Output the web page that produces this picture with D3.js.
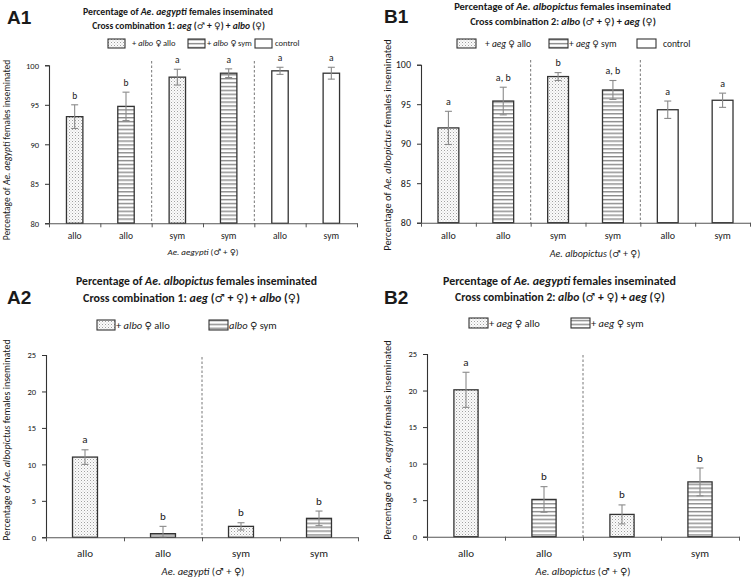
<!DOCTYPE html>
<html><head><meta charset="utf-8">
<script src="https://cdn.jsdelivr.net/npm/d3@7"></script>
<style>
body{margin:0;background:#fff}
svg{display:block}
text{font-family:Carlito, Lato, "Open Sans", sans-serif; fill:#1a1a1a}
</style>
</head><body>
<svg id="chart" width="756" height="579"></svg>
<script>
// ---------------- DATA ----------------
// Panel A1
const a1Categories = ["allo", "allo", "sym", "sym", "allo", "sym"];
const a1Values     = [93.5, 94.8, 98.5, 99.0, 99.3, 99.0];
const a1Errors     = [1.5, 1.8, 1.0, 0.55, 0.45, 0.75];
const a1Letters    = ["b", "b", "a", "a", "a", "a"];
const a1Groups     = ["allo", "sym", "allo", "sym", "control", "control"];
const a1Ticks      = [80, 85, 90, 95, 100];

// Panel B1
const b1Categories = ["allo", "allo", "sym", "sym", "allo", "sym"];
const b1Values     = [92.0, 95.4, 98.5, 96.8, 94.3, 95.5];
const b1Errors     = [2.1, 1.75, 0.5, 1.2, 1.1, 0.9];
const b1Letters    = ["a", "a, b", "b", "a, b", "a", "a"];
const b1Groups     = ["allo", "sym", "allo", "sym", "control", "control"];
const b1Ticks      = [80, 85, 90, 95, 100];

// Panel A2
const a2Categories = ["allo", "allo", "sym", "sym"];
const a2Values     = [11.0, 0.5, 1.5, 2.6];
const a2Errors     = [1.0, 1.0, 0.5, 1.0];
const a2Letters    = ["a", "b", "b", "b"];
const a2Groups     = ["allo", "sym", "allo", "sym"];
const a2Ticks      = [0, 5, 10, 15, 20, 25];

// Panel B2
const b2Categories = ["allo", "allo", "sym", "sym"];
const b2Values     = [20.1, 5.1, 3.05, 7.5];
const b2Errors     = [2.4, 1.75, 1.3, 1.9];
const b2Letters    = ["a", "b", "b", "b"];
const b2Groups     = ["allo", "sym", "allo", "sym"];
const b2Ticks      = [0, 5, 10, 15, 20, 25];

// ---------------- DRAWING ----------------
const svg = d3.select("#chart");
const defs = svg.append("defs");

// dotted pattern
const pd = defs.append("pattern").attr("id", "dots").attr("patternUnits", "userSpaceOnUse")
  .attr("width", 3).attr("height", 3);
pd.append("rect").attr("width", 3).attr("height", 3).attr("fill", "#fbfbfb");
pd.append("rect").attr("x", 0).attr("y", 0).attr("width", 1).attr("height", 1).attr("fill", "#a0a0a0");
pd.append("rect").attr("x", 1.5).attr("y", 1.5).attr("width", 1).attr("height", 1).attr("fill", "#c8c8c8");
// striped pattern
const ps = defs.append("pattern").attr("id", "stripes").attr("patternUnits", "userSpaceOnUse")
  .attr("width", 4).attr("height", 3.9);
ps.append("rect").attr("width", 4).attr("height", 3.9).attr("fill", "#fff");
ps.append("rect").attr("x", 0).attr("y", 0).attr("width", 4).attr("height", 1.4).attr("fill", "#8a8a8a");

const fillFor = g => g === "allo" ? "url(#dots)" : g === "sym" ? "url(#stripes)" : "#fff";

// rich text: segments with italic / bold; gender symbols in a font that has them
function rich(sel, segs) {
  segs.forEach(s => {
    const parts = s.t.split(/([\u2640\u2642])/).filter(p => p.length);
    parts.forEach(p => {
      const t = sel.append("tspan").text(p);
      if (s.i) t.attr("font-style", "italic");
      if (s.b) t.attr("font-weight", "bold");
      if (p === "\u2640" || p === "\u2642") {
        t.style("font-family", "'DejaVu Sans', sans-serif").attr("font-size", "0.95em").attr("font-style", "normal");
      }
    });
  });
  return sel;
}
function fitWidth(textSel, w) {
  const node = textSel.node();
  const cur = node.getComputedTextLength();
  const fs = parseFloat(textSel.attr("font-size"));
  if (cur > 0) textSel.attr("font-size", (fs * w / cur).toFixed(2));
}

function panel(cfg) {
  const g = svg.append("g");
  const n = cfg.cats.length;
  const x = d3.scaleBand().domain(d3.range(n)).range([cfg.left, cfg.right]).padding(0);
  const xb = d3.scaleLinear().domain([0, n]).range([cfg.left, cfg.right]);
  const y = d3.scaleLinear().domain(cfg.domain).range([cfg.bottom, cfg.top]);
  const bw = x.bandwidth() * cfg.barFrac;

  // panel label
  g.append("text").attr("x", cfg.label[0]).attr("y", cfg.label[1])
    .attr("font-weight", "bold").attr("font-size", 19)
    .style("font-family", "'Liberation Sans', Arial, sans-serif").text(cfg.labelText);

  // titles
  cfg.titles.forEach(tt => {
    const t = g.append("text").attr("x", tt.x).attr("y", tt.y).attr("text-anchor", "middle")
      .attr("font-weight", "bold").attr("font-size", 10);
    rich(t, tt.segs);
    fitWidth(t, tt.w);
  });

  // legend
  cfg.legend.forEach(l => {
    g.append("rect").attr("x", l.bx).attr("y", cfg.legendY - l.bh / 2).attr("width", l.bw).attr("height", l.bh)
      .attr("fill", fillFor(l.group)).attr("stroke", "#333").attr("stroke-width", 1.1);
    const t = g.append("text").attr("x", l.tx).attr("y", cfg.legendY + cfg.legendFs * 0.35)
      .attr("font-size", cfg.legendFs);
    rich(t, l.segs);
  });

  // separators
  cfg.seps.forEach(s => {
    g.append("line").attr("x1", xb(s)).attr("x2", xb(s)).attr("y1", cfg.sepTop).attr("y2", cfg.bottom)
      .attr("stroke", "#666").attr("stroke-width", 0.9).attr("stroke-dasharray", "2.5,2");
  });

  // bars
  const idx = d3.range(n);
  g.selectAll(".bar").data(idx).join("rect")
    .attr("x", i => x(i) + (x.bandwidth() - bw) / 2)
    .attr("y", i => y(cfg.values[i]))
    .attr("width", bw)
    .attr("height", i => y(cfg.domain[0]) - y(cfg.values[i]))
    .attr("fill", i => fillFor(cfg.groups[i]))
    .attr("stroke", "#333").attr("stroke-width", 1.3);

  // error bars
  const eb = g.selectAll(".eb").data(idx).join("g").attr("stroke", "#8a8a8a").attr("stroke-width", 1.1);
  const cx = i => x(i) + x.bandwidth() / 2;
  const hi = i => y(cfg.values[i] + cfg.errors[i]);
  const lo = i => y(Math.max(cfg.domain[0], cfg.values[i] - cfg.errors[i]));
  eb.append("line").attr("x1", cx).attr("x2", cx).attr("y1", hi).attr("y2", lo);
  eb.append("line").attr("x1", i => cx(i) - 3.5).attr("x2", i => cx(i) + 3.5).attr("y1", hi).attr("y2", hi);
  eb.append("line").attr("x1", i => cx(i) - 3.5).attr("x2", i => cx(i) + 3.5).attr("y1", lo).attr("y2", lo);

  // letters
  g.selectAll(".let").data(idx).join("text")
    .attr("x", cx).attr("y", i => hi(i) - cfg.letterGap)
    .attr("text-anchor", "middle").attr("font-size", cfg.letterFs).text(i => cfg.letters[i]);

  // y axis
  const ya = g.append("g").attr("transform", `translate(${cfg.left},0)`)
    .call(d3.axisLeft(y).tickValues(cfg.ticks).tickSize(4).tickPadding(6).tickFormat(d3.format("d")));
  ya.select(".domain").attr("stroke", "#333").attr("stroke-width", 1.1);
  ya.selectAll(".tick line").attr("stroke", "#333");
  ya.selectAll(".tick text").attr("font-size", cfg.tickFs).style("font-family", "Carlito, Lato, sans-serif").attr("fill", "#333");

  // x axis with boundary ticks
  const xa = g.append("g").attr("transform", `translate(0,${cfg.bottom})`)
    .call(d3.axisBottom(xb).tickValues(d3.range(n + 1)).tickSize(4).tickSizeOuter(0).tickFormat(""));
  xa.select(".domain").attr("stroke", "#555").attr("stroke-width", 1.1);
  xa.selectAll(".tick line").attr("stroke", "#555");

  // category labels
  g.selectAll(".cat").data(idx).join("text")
    .attr("x", cx).attr("y", cfg.bottom + cfg.catDy)
    .attr("text-anchor", "middle").attr("font-size", cfg.catFs).text(i => cfg.cats[i]);

  // x title
  const xt = g.append("text").attr("x", cfg.xTitle[0]).attr("y", cfg.xTitle[1])
    .attr("text-anchor", "middle").attr("font-size", cfg.xTitleFs);
  rich(xt, cfg.xTitleSegs);

  // y title
  const yt = g.append("text").attr("transform", `translate(${cfg.yTitle[0]},${cfg.yTitle[1]}) rotate(-90)`)
    .attr("text-anchor", "middle").attr("font-size", cfg.yTitleFs);
  rich(yt, cfg.yTitleSegs);
}

const MF = " (\u2642 + \u2640)";

panel({
  labelText: "A1", label: [7, 24],
  cats: a1Categories, values: a1Values, errors: a1Errors, letters: a1Letters, groups: a1Groups, ticks: a1Ticks,
  domain: [80, 100], left: 49, right: 357, top: 65.3, bottom: 223.3, barFrac: 0.32,
  titles: [
    {x: 178, y: 14.5, w: 190, segs: [{t: "Percentage of "}, {t: "Ae. aegypti", i: 1}, {t: " females inseminated"}]},
    {x: 178.5, y: 28.5, w: 173, segs: [{t: "Cross combination 1: "}, {t: "aeg", i: 1}, {t: MF + " + "}, {t: "albo", i: 1}, {t: " (\u2640)"}]}
  ],
  legendY: 43.5, legendFs: 8.5,
  legend: [
    {group: "allo", bx: 108, bw: 17, bh: 9, tx: 132, segs: [{t: "+ "}, {t: "albo", i: 1}, {t: " \u2640 allo"}]},
    {group: "sym", bx: 188, bw: 17, bh: 9, tx: 207, segs: [{t: "+ "}, {t: "albo", i: 1}, {t: " \u2640 sym"}]},
    {group: "control", bx: 255, bw: 17, bh: 9, tx: 275, segs: [{t: "control"}]}
  ],
  seps: [2, 4], sepTop: 61,
  letterGap: 6, letterFs: 9.5, tickFs: 8.5, catFs: 9.5, catDy: 15.5,
  xTitle: [203, 255], xTitleFs: 9, xTitleSegs: [{t: "Ae. aegypti", i: 1}, {t: MF}],
  yTitle: [10, 150], yTitleFs: 9.5, yTitleSegs: [{t: "Percentage of  "}, {t: "Ae. aegypti", i: 1}, {t: " females inseminated"}]
});

panel({
  labelText: "B1", label: [384, 23],
  cats: b1Categories, values: b1Values, errors: b1Errors, letters: b1Letters, groups: b1Groups, ticks: b1Ticks,
  domain: [80, 100], left: 421, right: 750, top: 64.7, bottom: 222.7, barFrac: 0.38,
  titles: [
    {x: 562.5, y: 10, w: 217, segs: [{t: "Percentage of "}, {t: "Ae. albopictus", i: 1}, {t: " females inseminated"}]},
    {x: 563, y: 24.5, w: 186, segs: [{t: "Cross combination 2: "}, {t: "albo", i: 1}, {t: MF + " + "}, {t: "aeg", i: 1}, {t: " (\u2640)"}]}
  ],
  legendY: 43.5, legendFs: 9.5,
  legend: [
    {group: "allo", bx: 457, bw: 19, bh: 9, tx: 485, segs: [{t: "+ "}, {t: "aeg", i: 1}, {t: " \u2640 allo"}]},
    {group: "sym", bx: 549, bw: 19, bh: 9, tx: 569, segs: [{t: "+ "}, {t: "aeg", i: 1}, {t: " \u2640 sym"}]},
    {group: "control", bx: 637, bw: 19, bh: 9, tx: 663, segs: [{t: "control"}]}
  ],
  seps: [2, 4], sepTop: 60,
  letterGap: 6.5, letterFs: 10, tickFs: 10, catFs: 10, catDy: 16,
  xTitle: [595, 257], xTitleFs: 10, xTitleSegs: [{t: "Ae. albopictus", i: 1}, {t: MF}],
  yTitle: [391, 145], yTitleFs: 10.5, yTitleSegs: [{t: "Percentage of "}, {t: "Ae. albopictus", i: 1}, {t: " females inseminated"}]
});

panel({
  labelText: "A2", label: [7, 304],
  cats: a2Categories, values: a2Values, errors: a2Errors, letters: a2Letters, groups: a2Groups, ticks: a2Ticks,
  domain: [0, 25], left: 46, right: 358, top: 355, bottom: 537.3, barFrac: 0.32,
  titles: [
    {x: 196.5, y: 285, w: 241, segs: [{t: "Percentage of "}, {t: "Ae. albopictus", i: 1}, {t: " females inseminated"}]},
    {x: 191.5, y: 302, w: 217, segs: [{t: "Cross combination 1: "}, {t: "aeg", i: 1}, {t: MF + " + "}, {t: "albo", i: 1}, {t: " (\u2640)"}]}
  ],
  legendY: 325, legendFs: 10.5,
  legend: [
    {group: "allo", bx: 97, bw: 18, bh: 10, tx: 116, segs: [{t: "+ "}, {t: "albo", i: 1}, {t: " \u2640 allo"}]},
    {group: "sym", bx: 209, bw: 19, bh: 10, tx: 229, segs: [{t: "albo", i: 1}, {t: " \u2640 sym"}]}
  ],
  seps: [2], sepTop: 357,
  letterGap: 6.5, letterFs: 11, tickFs: 8.5, catFs: 11, catDy: 20,
  xTitle: [203, 575], xTitleFs: 10.5, xTitleSegs: [{t: "Ae. aegypti", i: 1}, {t: MF}],
  yTitle: [10, 440], yTitleFs: 10, yTitleSegs: [{t: "Percentage of  "}, {t: "Ae. albopictus", i: 1}, {t: " females inseminated"}]
});

panel({
  labelText: "B2", label: [384, 304],
  cats: b2Categories, values: b2Values, errors: b2Errors, letters: b2Letters, groups: b2Groups, ticks: b2Ticks,
  domain: [0, 25], left: 427, right: 739, top: 354, bottom: 536.7, barFrac: 0.31,
  titles: [
    {x: 559.5, y: 285, w: 233, segs: [{t: "Percentage of "}, {t: "Ae. aegypti", i: 1}, {t: "  females inseminated"}]},
    {x: 560, y: 301, w: 210, segs: [{t: "Cross combination 2: "}, {t: "albo", i: 1}, {t: MF + " + "}, {t: "aeg", i: 1}, {t: " (\u2640)"}]}
  ],
  legendY: 323, legendFs: 10.5,
  legend: [
    {group: "allo", bx: 469, bw: 19, bh: 10, tx: 489, segs: [{t: "+ "}, {t: "aeg", i: 1}, {t: " \u2640 allo"}]},
    {group: "sym", bx: 571, bw: 19, bh: 10, tx: 591, segs: [{t: "+ "}, {t: "aeg", i: 1}, {t: " \u2640 sym"}]}
  ],
  seps: [2], sepTop: 355,
  letterGap: 6.5, letterFs: 11, tickFs: 8.5, catFs: 11, catDy: 20,
  xTitle: [583, 575], xTitleFs: 10.5, xTitleSegs: [{t: "Ae. albopictus", i: 1}, {t: MF}],
  yTitle: [391, 440], yTitleFs: 10.5, yTitleSegs: [{t: "Percentage of "}, {t: "Ae. aegypti", i: 1}, {t: " females inseminated"}]
});
</script>
</body></html>
